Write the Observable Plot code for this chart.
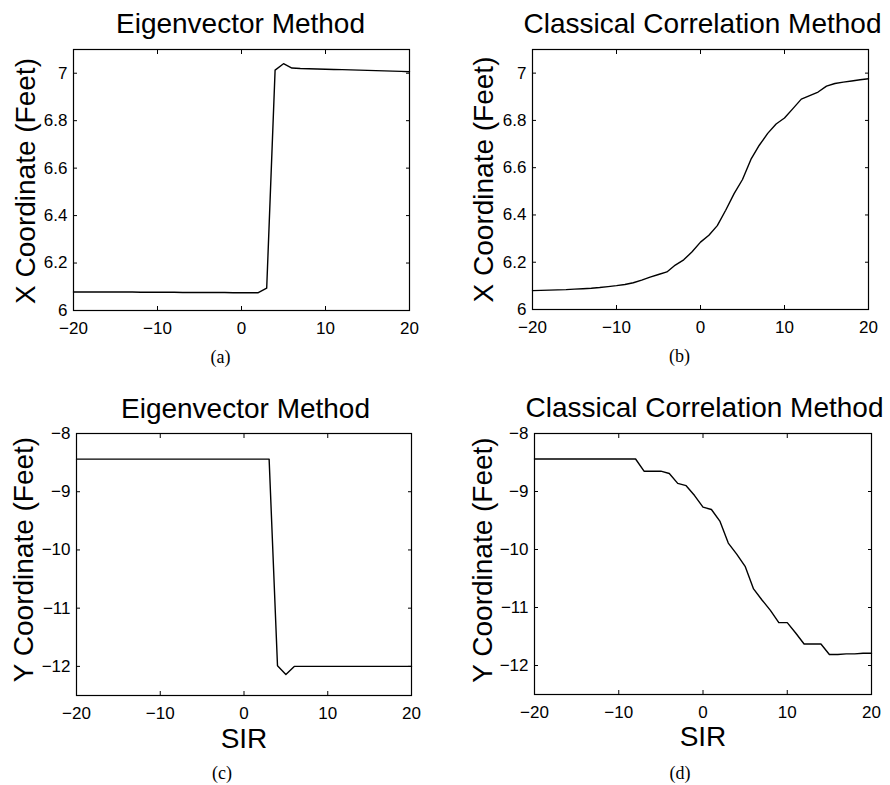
<!DOCTYPE html>
<html>
<head>
<meta charset="utf-8">
<script src="https://cdn.jsdelivr.net/npm/d3@7"></script>
<script src="https://cdn.jsdelivr.net/npm/@observablehq/plot@0.6"></script>
<style>
  html, body { margin: 0; padding: 0; background: #fff; width: 890px; height: 785px; overflow: hidden; }
  .panel { position: absolute; }
</style>
</head>
<body>
<div id="pa" class="panel" style="left:0px;top:0px"></div>
<div id="pb" class="panel" style="left:445px;top:0px"></div>
<div id="pc" class="panel" style="left:0px;top:380px"></div>
<div id="pd" class="panel" style="left:445px;top:380px"></div>
<script>
// ---- data ----
const sir = [-20,-19,-18,-17,-16,-15,-14,-13,-12,-11,-10,-9,-8,-7,-6,-5,-4,-3,-2,-1,0,1,2,3,4,5,6,7,8,9,10,11,12,13,14,15,16,17,18,19,20];

// (a) X coordinate, eigenvector method
const xEigen = [6.078,6.078,6.078,6.078,6.078,6.078,6.078,6.078,6.077,6.077,6.077,6.077,6.077,6.076,6.076,6.076,6.076,6.076,6.076,6.075,
  6.075,6.075,6.075,6.094,7.013,7.040,7.022,7.020,7.019,7.018,7.017,7.016,7.015,7.014,7.013,7.012,7.011,7.010,7.009,7.008,7.006];

// (b) X coordinate, classical correlation method
const xClassical = [6.080,6.081,6.082,6.083,6.084,6.086,6.088,6.090,6.093,6.097,6.101,6.106,6.113,6.124,6.137,6.148,6.159,6.188,6.210,6.244,
  6.285,6.314,6.355,6.420,6.490,6.550,6.635,6.695,6.745,6.785,6.810,6.850,6.890,6.905,6.920,6.945,6.956,6.962,6.967,6.972,6.976];

// (c) Y coordinate, eigenvector method
const yEigen = [-8.44,-8.44,-8.44,-8.44,-8.44,-8.44,-8.44,-8.44,-8.44,-8.44,-8.44,-8.44,-8.44,-8.44,-8.44,-8.44,-8.44,-8.44,-8.44,-8.44,
  -8.44,-8.44,-8.44,-8.44,-11.99,-12.14,-12.00,-12.00,-12.00,-12.00,-12.00,-12.00,-12.00,-12.00,-12.00,-12.00,-12.00,-12.00,-12.00,-12.00,-12.00];

// (d) Y coordinate, classical correlation method
const yClassical = [-8.44,-8.44,-8.44,-8.44,-8.44,-8.44,-8.44,-8.44,-8.44,-8.44,-8.44,-8.44,-8.44,-8.65,-8.65,-8.65,-8.69,-8.86,-8.90,-9.07,
  -9.27,-9.31,-9.51,-9.89,-10.08,-10.29,-10.68,-10.87,-11.05,-11.26,-11.26,-11.44,-11.63,-11.63,-11.63,-11.81,-11.81,-11.80,-11.80,-11.79,-11.79];

const sirTicks = [-20, -10, 0, 10, 20];
const xCoordTicks = [6, 6.2, 6.4, 6.6, 6.8, 7];
const yCoordTicks = [-12, -11, -10, -9, -8];
const xCoordDomain = [6, 7.1];
const yCoordDomain = [-12.5, -8];

const titles = ["Eigenvector Method", "Classical Correlation Method", "Eigenvector Method", "Classical Correlation Method"];
const yLabels = ["X Coordinate (Feet)", "X Coordinate (Feet)", "Y Coordinate (Feet)", "Y Coordinate (Feet)"];
const xLabel = "SIR";
const captions = ["(a)", "(b)", "(c)", "(d)"];

// ---- drawing ----
const SANS = "'Liberation Sans', Arial, Helvetica, sans-serif";
const SERIF = "'Liberation Serif', 'Times New Roman', serif";
const fmt = d3.format("~g");
const TICK = 4;

function panel(id, values, cfg) {
  const data = sir.map((s, i) => ({sir: s, v: values[i]}));
  const blank = () => "";
  const marks = [
    // tick labels (no tick marks)
    Plot.axisX({anchor: "bottom", ticks: sirTicks, tickSize: 0, tickPadding: 11, fontSize: 17, tickFormat: fmt, label: null}),
    Plot.axisY({anchor: "left", ticks: cfg.yTicks, tickSize: 0, tickPadding: 6, fontSize: 17, tickFormat: fmt, label: null}),
    // inward tick marks on all four sides
    Plot.axisX({anchor: "bottom", ticks: sirTicks, tickSize: TICK, dy: -TICK, tickFormat: blank, label: null}),
    Plot.axisX({anchor: "top", ticks: sirTicks, tickSize: TICK, dy: TICK, tickFormat: blank, label: null}),
    Plot.axisY({anchor: "left", ticks: cfg.yTicks, tickSize: TICK, dx: TICK, tickFormat: blank, label: null}),
    Plot.axisY({anchor: "right", ticks: cfg.yTicks, tickSize: TICK, dx: -TICK, tickFormat: blank, label: null}),
    Plot.frame({stroke: "black", strokeWidth: 1.2}),
    Plot.lineY(data, {x: "sir", y: "v", stroke: "black", strokeWidth: 1.4}),
    Plot.text([cfg.title], {text: d => d, frameAnchor: "top", lineAnchor: "bottom", dy: -cfg.titleGap, dx: cfg.titleDx, fontSize: 28, fill: "black"}),
    Plot.text([cfg.ylabel], {text: d => d, frameAnchor: "left", rotate: -90, textAnchor: "middle", lineAnchor: "middle", dx: cfg.ylabelDx, dy: cfg.ylabelDy, fontSize: 28, fill: "black"}),
    Plot.text([cfg.caption], {text: d => d, frameAnchor: "bottom", lineAnchor: "bottom", dx: cfg.capDx, dy: cfg.capDy, fontSize: 18, fontFamily: SERIF, fill: "black"})
  ];
  if (cfg.xlabel) {
    marks.push(Plot.text([cfg.xlabel], {text: d => d, frameAnchor: "bottom", lineAnchor: "bottom", dy: cfg.xlabelDy, fontSize: 28, fill: "black"}));
  }
  const chart = Plot.plot({
    width: cfg.width, height: cfg.height,
    marginLeft: cfg.ml, marginRight: cfg.mr, marginTop: cfg.mt, marginBottom: cfg.mb,
    x: {domain: [-20, 20]},
    y: {domain: cfg.yDomain},
    style: {fontFamily: SANS, color: "black", background: "white", overflow: "visible"},
    marks
  });
  document.getElementById(id).appendChild(chart);
}

panel("pa", xEigen, {width: 445, height: 380, ml: 73, mr: 36, mt: 49, mb: 70,
  yDomain: xCoordDomain, yTicks: xCoordTicks, title: titles[0], titleGap: 17, titleDx: -1,
  ylabel: yLabels[0], ylabelDx: -47, ylabelDy: 1, caption: captions[0], capDx: -21, capDy: 52});
panel("pb", xClassical, {width: 445, height: 380, ml: 87, mr: 22, mt: 49, mb: 71,
  yDomain: xCoordDomain, yTicks: xCoordTicks, title: titles[1], titleGap: 17, titleDx: 2,
  ylabel: yLabels[1], ylabelDx: -48, ylabelDy: 0, caption: captions[1], capDx: -21, capDy: 52});
panel("pc", yEigen, {width: 445, height: 405, ml: 76, mr: 34, mt: 53, mb: 90,
  yDomain: yCoordDomain, yTicks: yCoordTicks, title: titles[2], titleGap: 16, titleDx: 1.5,
  ylabel: yLabels[2], ylabelDx: -52, ylabelDy: -5, caption: captions[2], capDx: -22, capDy: 83,
  xlabel: xLabel, xlabelDy: 52});
panel("pd", yClassical, {width: 445, height: 405, ml: 89, mr: 19, mt: 53, mb: 91,
  yDomain: yCoordDomain, yTicks: yCoordTicks, title: titles[3], titleGap: 17, titleDx: 1.5,
  ylabel: yLabels[3], ylabelDx: -51, ylabelDy: -4, caption: captions[3], capDx: -23, capDy: 84,
  xlabel: xLabel, xlabelDy: 51});
</script>
</body>
</html>
